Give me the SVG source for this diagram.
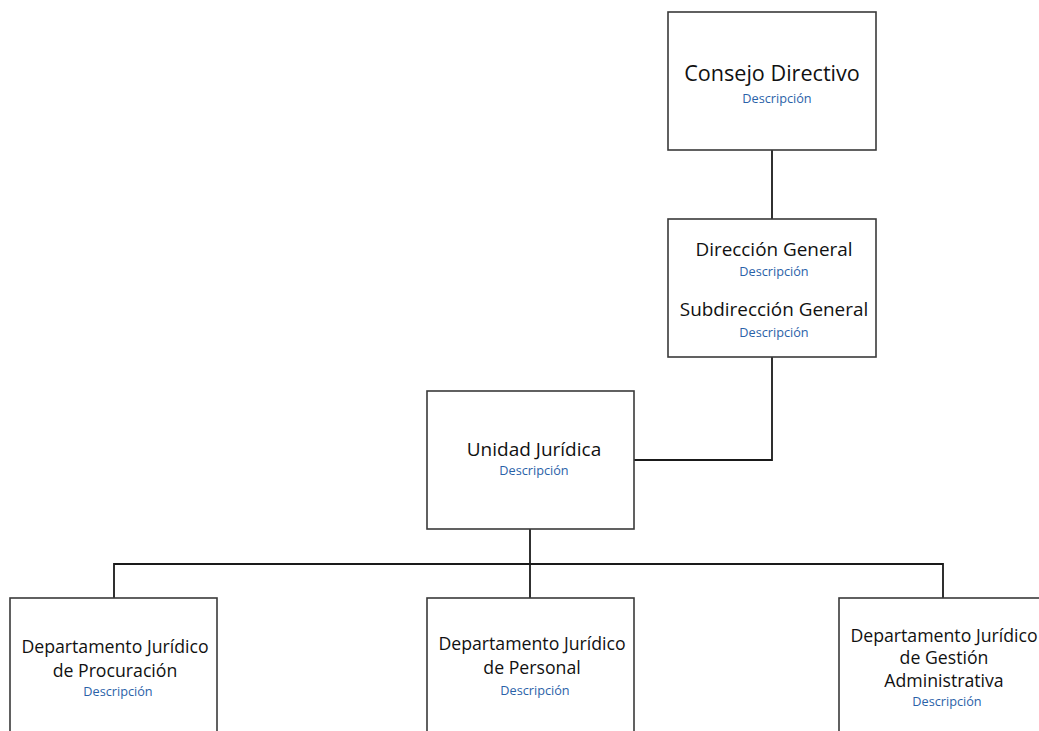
<svg xmlns="http://www.w3.org/2000/svg" width="1039" height="731" viewBox="0 0 1039 731">
<style>
.box{fill:#fff;stroke:#3a3a3a;stroke-width:1.6}
.t{font-family:"Open Sans","Noto Sans",sans-serif;fill:#111;text-anchor:middle}
.d{font-family:"Open Sans","Noto Sans",sans-serif;fill:#2a62a8;font-size:12.7px;text-anchor:middle}
.c{fill:none;stroke:#1a1a1a;stroke-width:1.8}
</style>
<rect width="1039" height="731" fill="#fff"/>
<g id="connectors">
<path class="c" d="M772 150V219"/>
<path class="c" d="M772 357V460H634"/>
<path class="c" d="M530 529V598"/>
<path class="c" d="M114 598V564H943V598"/>
</g>
<g id="consejo">
<rect class="box" x="668" y="12" width="208" height="138"/>
<text class="t" x="772" y="81" font-size="21.6">Consejo Directivo</text>
<text class="d" x="777" y="103">Descripción</text>
</g>
<g id="direccion">
<rect class="box" x="668" y="219" width="208" height="138"/>
<text class="t" x="774" y="256" font-size="18.9">Dirección General</text>
<text class="d" x="774" y="276">Descripción</text>
<text class="t" x="774" y="316" font-size="18.9">Subdirección General</text>
<text class="d" x="774" y="337">Descripción</text>
</g>
<g id="unidad">
<rect class="box" x="427" y="391" width="207" height="138"/>
<text class="t" x="534" y="456" font-size="19">Unidad Jurídica</text>
<text class="d" x="534" y="475">Descripción</text>
</g>
<g id="procuracion">
<rect class="box" x="10" y="598" width="207" height="138"/>
<text class="t" x="115" y="653" font-size="17.7">Departamento Jurídico</text>
<text class="t" x="115" y="677" font-size="17.7">de Procuración</text>
<text class="d" x="118" y="696">Descripción</text>
</g>
<g id="personal">
<rect class="box" x="427" y="598" width="207" height="138"/>
<text class="t" x="532" y="650" font-size="17.7">Departamento Jurídico</text>
<text class="t" x="532" y="674" font-size="17.7">de Personal</text>
<text class="d" x="535" y="695">Descripción</text>
</g>
<g id="gestion">
<rect class="box" x="839" y="598" width="207" height="138"/>
<text class="t" x="944" y="642" font-size="17.7">Departamento Jurídico</text>
<text class="t" x="944" y="664" font-size="17.7">de Gestión</text>
<text class="t" x="944" y="687" font-size="17.7">Administrativa</text>
<text class="d" x="947" y="706">Descripción</text>
</g>
</svg>
